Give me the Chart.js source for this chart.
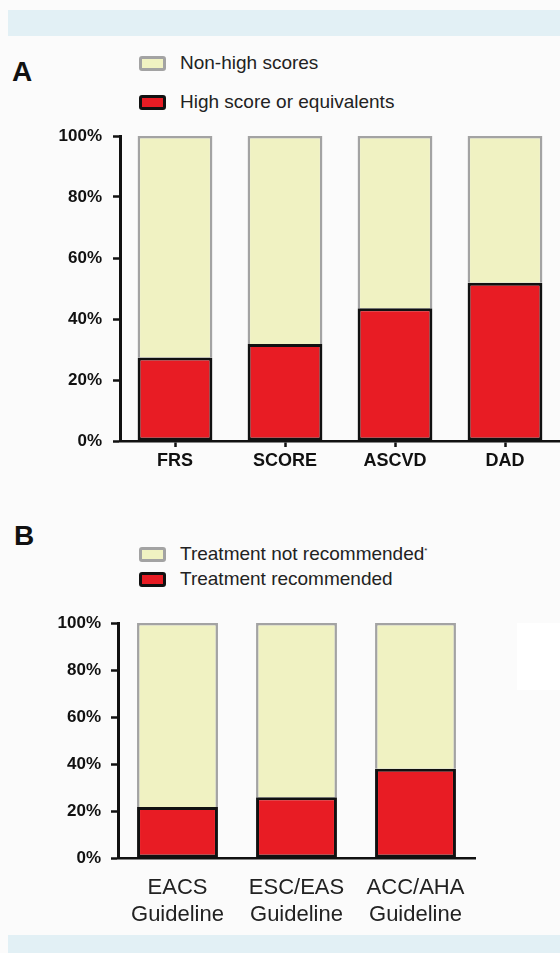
<!DOCTYPE html>
<html>
<head>
<meta charset="utf-8">
<script src="https://cdn.jsdelivr.net/npm/chart.js@4.4.1/dist/chart.umd.min.js"></script>
<style>
  html, body { margin:0; padding:0; }
  body { width:560px; height:953px; position:relative; overflow:hidden; background:#fbfbfb; font-family:"Liberation Sans", Arial, sans-serif; color:#111; }
  .band { position:absolute; left:8px; width:552px; background:#e2f0f5; }
  .panel { position:absolute; font-weight:bold; font-size:28px; color:#111; }
  .leg { position:absolute; left:139px; font-size:19px; color:#222; display:flex; align-items:center; white-space:nowrap; }
  .sw { width:21px; height:9px; border-radius:3px; margin-right:14px; }
  .sw.y { background:#f0f2c2; border:3px solid #a3a3a3; }
  .sw.r { background:#e81c24; border:3px solid #111; }
  canvas { position:absolute; left:0; }
  .patch { position:absolute; left:517px; top:623px; width:43px; height:67px; background:#ffffff; }
</style>
</head>
<body>
<div class="band" style="top:10px;height:26px;"></div>
<div class="band" style="top:935px;height:18px;"></div>
<div class="patch"></div>

<div class="panel" style="left:12px;top:56px;">A</div>
<div class="leg" style="top:52px;"><div class="sw y"></div>Non-high scores</div>
<div class="leg" style="top:91px;"><div class="sw r"></div>High score or equivalents</div>

<div class="panel" style="left:14px;top:520px;">B</div>
<div class="leg" style="top:543px;"><div class="sw y"></div>Treatment not recommended<sup style="font-size:8px;position:relative;top:-4px;">*</sup></div>
<div class="leg" style="top:568px;"><div class="sw r"></div>Treatment recommended</div>

<canvas id="chartA" width="560" height="380" style="top:110px;width:560px;height:380px;"></canvas>
<canvas id="chartB" width="560" height="335" style="top:600px;width:560px;height:335px;"></canvas>

<script>
// ---- Data ----
const scoreCategories = ["FRS", "SCORE", "ASCVD", "DAD"];
const highScore = [27.4, 31.8, 43.5, 51.9];
const nonHighScore = [72.6, 68.2, 56.5, 48.1];

const guidelineCategories = [["EACS", "Guideline"], ["ESC/EAS", "Guideline"], ["ACC/AHA", "Guideline"]];
const treatmentRecommended = [21.7, 25.8, 38.0];
const treatmentNotRecommended = [78.3, 74.2, 62.0];

const percentTicks = [0, 20, 40, 60, 80, 100];

// ---- Styles ----
const FONT = "'Liberation Sans', Arial, sans-serif";
const RED = "#e81c24", YELLOW = "#f0f2c2", GREY = "#a3a3a3";

function makeChart(id, labels, high, non, opts) {
  return new Chart(document.getElementById(id), {
    type: "bar",
    data: {
      labels: labels,
      datasets: [
        { label: "high", data: high, backgroundColor: RED, borderColor: "#111", borderWidth: 3, borderSkipped: false,
          barPercentage: 0.68, categoryPercentage: 1 },
        { label: "non", data: non, backgroundColor: YELLOW, borderColor: GREY, borderWidth: 2.5, borderSkipped: "start",
          barPercentage: 0.68, categoryPercentage: 1 }
      ]
    },
    options: {
      responsive: false,
      animation: false,
      devicePixelRatio: 1,
      layout: { padding: opts.padding },
      plugins: { legend: { display: false }, tooltip: { enabled: false } },
      scales: {
        x: {
          stacked: true,
          afterFit: (ax) => { ax.height = opts.xHeight; },
          border: { display: true, color: "#111", width: 2.5 },
          grid: opts.xTicks
            ? { display: true, drawOnChartArea: false, drawTicks: true, offset: false, tickLength: 6, tickColor: "#111", tickWidth: 2.5 }
            : { display: false, drawTicks: false },
          ticks: { color: opts.xColor, font: opts.xFont, padding: opts.xPad, maxRotation: 0, autoSkip: false }
        },
        y: {
          stacked: true,
          min: 0, max: 100,
          afterFit: (ax) => { ax.width = opts.yWidth; },
          afterBuildTicks: (ax) => { ax.ticks = percentTicks.map(v => ({ value: v })); },
          border: { display: true, color: "#111", width: 3 },
          grid: { display: true, drawOnChartArea: false, drawTicks: true, tickLength: 7, tickColor: "#111", tickWidth: 2.5 },
          ticks: { color: "#111", font: { family: FONT, size: 17, weight: "bold" }, padding: opts.yPad,
                   callback: (v) => v + "%" }
        }
      }
    }
  });
}

makeChart("chartA", scoreCategories, highScore, nonHighScore, {
  padding: { top: 26, left: 0, right: 0, bottom: 0 },
  xHeight: 49, yWidth: 120, yPad: 11, xTicks: true, xPad: 3,
  xColor: "#111", xFont: { family: FONT, size: 18, weight: "bold" }
});

makeChart("chartB", guidelineCategories, treatmentRecommended, treatmentNotRecommended, {
  padding: { top: 23, left: 0, right: 85, bottom: 0 },
  xHeight: 77, yWidth: 118, yPad: 10, xTicks: false, xPad: 17,
  xColor: "#222", xFont: { family: FONT, size: 22, weight: "normal", lineHeight: 1.2 }
});
</script>
</body>
</html>
